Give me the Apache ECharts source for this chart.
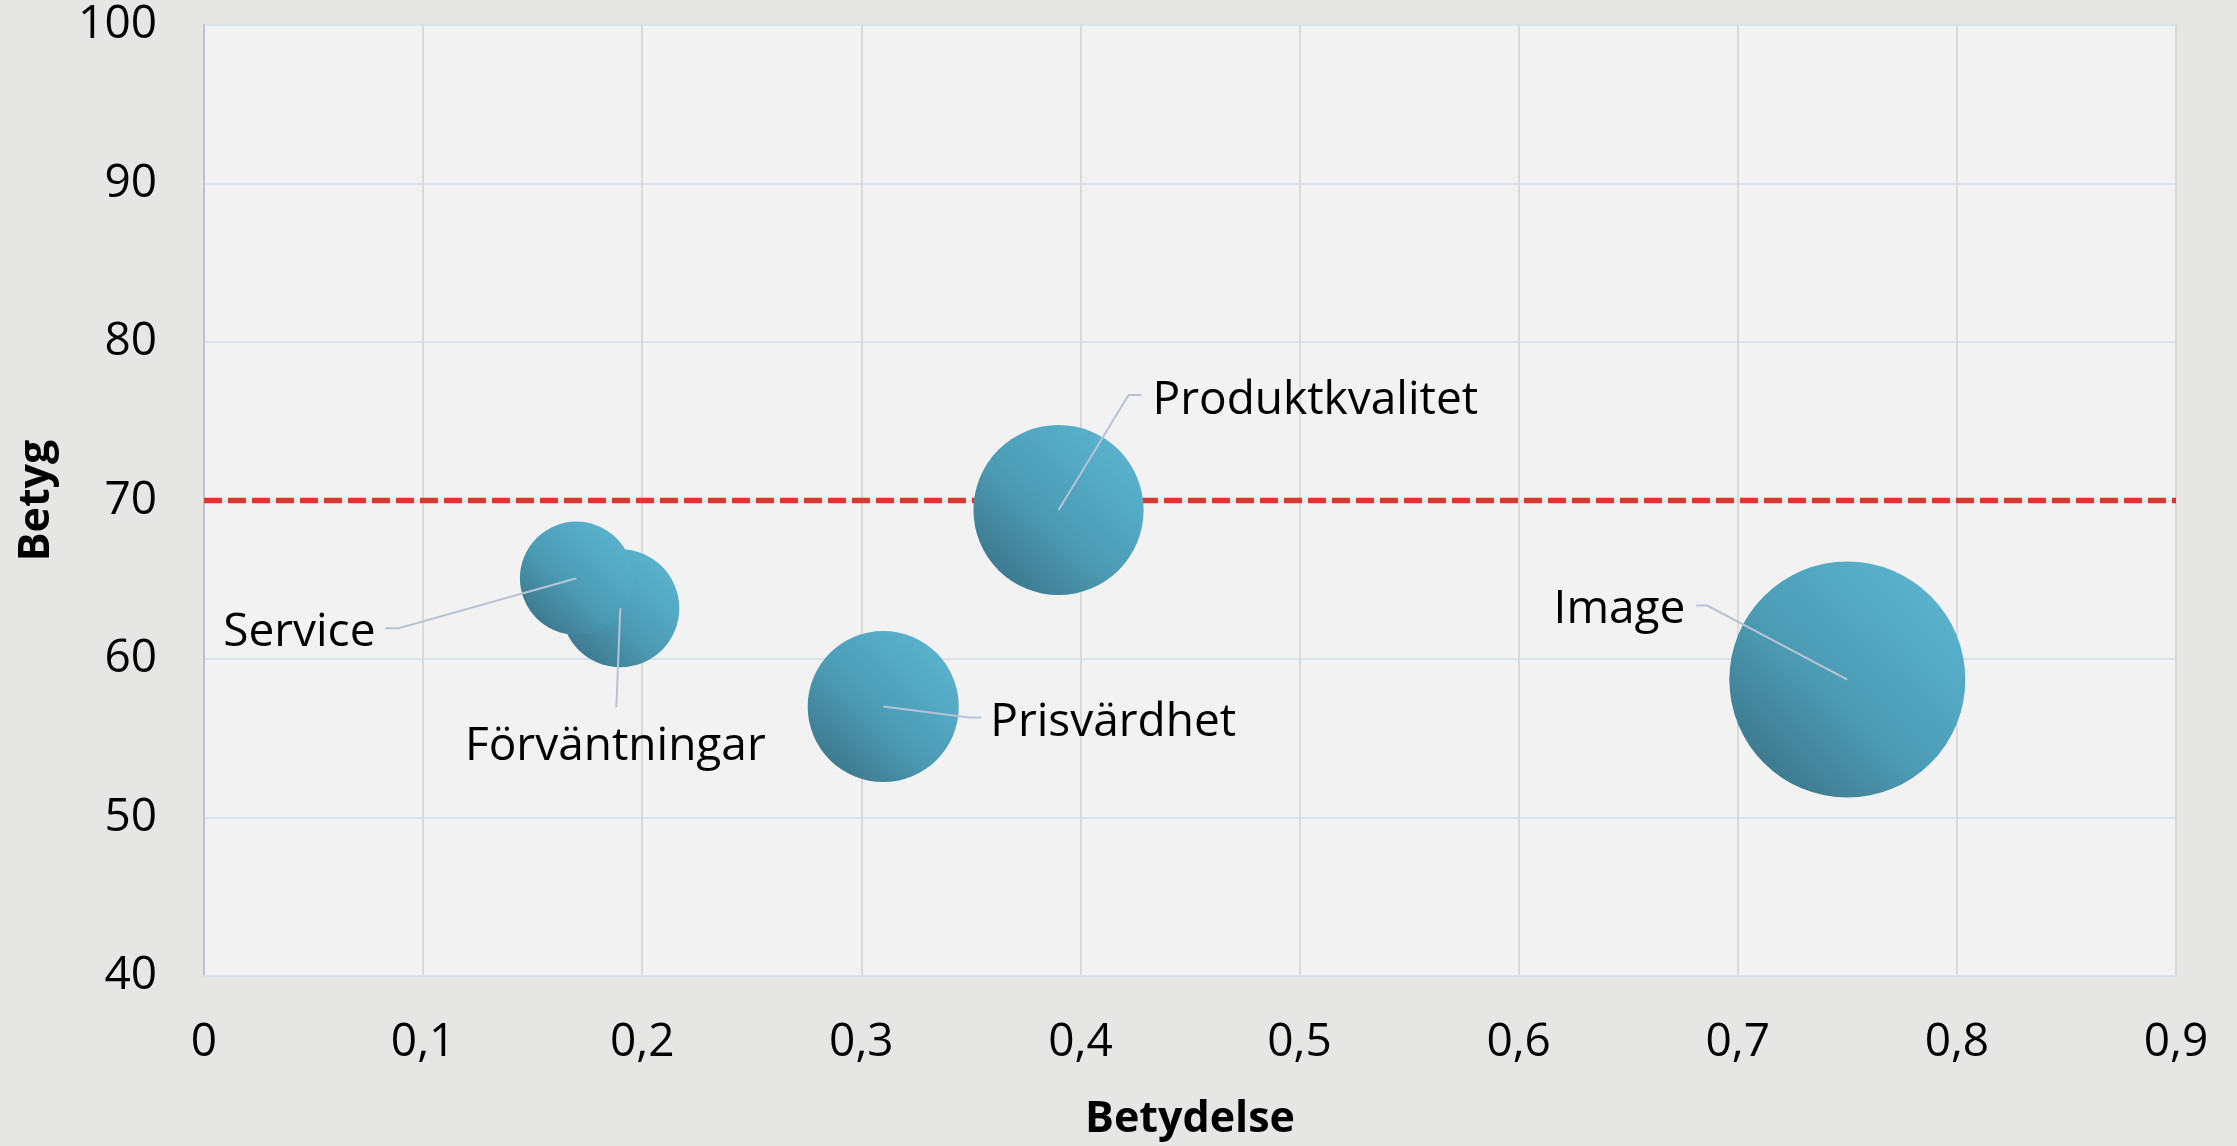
<!DOCTYPE html>
<html>
<head>
<meta charset="utf-8">
<script src="https://cdn.jsdelivr.net/npm/echarts@6/dist/echarts.min.js"></script>
<style>
  html, body { margin: 0; padding: 0; background: #e6e6e4; }
  #bubble_main { width: 2237px; height: 1146px; }
</style>
</head>
<body>
<div id="bubble_main"></div>
<script>
  // data
  var kategorier = ['Image', 'Produktkvalitet', 'Prisvärdhet', 'Förväntningar', 'Service'];
  var betydelse = [0.75, 0.39, 0.31, 0.19, 0.17];
  var betyg = [58.7, 69.4, 57.0, 63.2, 65.1];
  var storlek = [1.0, 0.52, 0.41, 0.25, 0.23];
  var malniva = 70;
  var xTicks = [0, 0.9, 0.1];
  var yTicks = [40, 100, 10];

  // where each label sits relative to its bubble (px): elbow, end of line, text
  var etiketter = [
    { ex: -140, ey: -74, lx: -151, ly: -74, tx: -162, ty: -70, align: 'right' },
    { ex: 70, ey: -115, lx: 83, ly: -115, tx: 94, ty: -109, align: 'left' },
    { ex: 86, ey: 11, lx: 98, ly: 11, tx: 107, ty: 16, align: 'left' },
    { ex: -4, ey: 99, lx: -4, ly: 99, tx: -5, ty: 139, align: 'center' },
    { ex: -178, ey: 50, lx: -191, ly: 50, tx: -201, ty: 55, align: 'right' }
  ];

  var punkter = [];
  for (var i = 0; i < kategorier.length; i++) {
    punkter.push([betydelse[i], betyg[i], storlek[i], kategorier[i]]);
  }

  function komma(v) {
    if (v === 0) return '0';
    return (+v).toFixed(1).replace('.', ',');
  }

  var chart = echarts.init(document.getElementById('bubble_main'));
  chart.setOption({
    backgroundColor: '#e6e6e4',
    textStyle: { fontFamily: 'Open Sans' },
    grid: {
      left: 204, top: 25, right: 61, bottom: 170,
      containLabel: false,
      outerBoundsMode: 'none',
      show: true,
      backgroundColor: '#f2f2f2',
      borderColor: '#dcdcdc',
      borderWidth: 2
    },
    xAxis: {
      type: 'value',
      min: xTicks[0], max: xTicks[1], interval: xTicks[2],
      name: 'Betydelse',
      nameLocation: 'middle',
      nameGap: 122,
      nameMoveOverlap: false,
      nameTextStyle: { fontSize: 43, fontWeight: 'bold', color: '#000', fontFamily: 'Open Sans' },
      axisLine: { show: true, lineStyle: { color: '#dce2ea', width: 2 } },
      axisTick: { show: false },
      axisLabel: { fontSize: 46, color: '#000', margin: 44, formatter: komma },
      splitLine: { show: true, lineStyle: { color: '#d9d9d9', width: 2 } }
    },
    yAxis: {
      type: 'value',
      min: yTicks[0], max: yTicks[1], interval: yTicks[2],
      name: 'Betyg',
      nameLocation: 'middle',
      nameGap: 146,
      nameMoveOverlap: false,
      nameTextStyle: { fontSize: 43, fontWeight: 'bold', color: '#000', fontFamily: 'Open Sans' },
      axisLine: { show: true, onZero: false, lineStyle: { color: '#b9c3d3', width: 2 } },
      axisTick: { show: false },
      axisLabel: { fontSize: 46, color: '#000', margin: 47 },
      splitLine: { show: true, lineStyle: { color: '#dce2ea', width: 2 } }
    },
    series: [
      {
        name: 'Mål',
        type: 'line',
        z: 1,
        symbol: 'none',
        silent: true,
        lineStyle: { color: '#d63a2f', width: 5.5, type: [18, 6] },
        data: [[xTicks[0], malniva], [xTicks[1], malniva]]
      },
      {
        name: 'Betyg',
        type: 'scatter',
        z: 3,
        data: punkter,
        symbolSize: function (val) {
          return 236 * Math.sqrt(val[2]);
        },
        itemStyle: {
          opacity: 1,
          color: new echarts.graphic.LinearGradient(0.1, 0.95, 0.9, 0.1, [
            { offset: 0, color: '#3b7387' },
            { offset: 0.45, color: '#4c9bb5' },
            { offset: 1, color: '#5ab4cf' }
          ])
        }
      },
      {
        name: 'Etiketter',
        type: 'custom',
        z: 4,
        silent: true,
        data: punkter,
        renderItem: function (params, api) {
          var c = api.coord([api.value(0), api.value(1)]);
          var o = etiketter[params.dataIndex];
          return {
            type: 'group',
            children: [
              {
                type: 'polyline',
                shape: { points: [c, [c[0] + o.ex, c[1] + o.ey], [c[0] + o.lx, c[1] + o.ly]] },
                style: { stroke: '#b8c3d4', lineWidth: 2, fill: null }
              },
              {
                type: 'text',
                x: c[0] + o.tx,
                y: c[1] + o.ty,
                style: {
                  text: kategorier[params.dataIndex],
                  fontSize: 46,
                  fontFamily: 'Open Sans',
                  fill: '#000',
                  align: o.align,
                  verticalAlign: 'middle'
                }
              }
            ]
          };
        }
      }
    ]
  });
</script>
</body>
</html>
